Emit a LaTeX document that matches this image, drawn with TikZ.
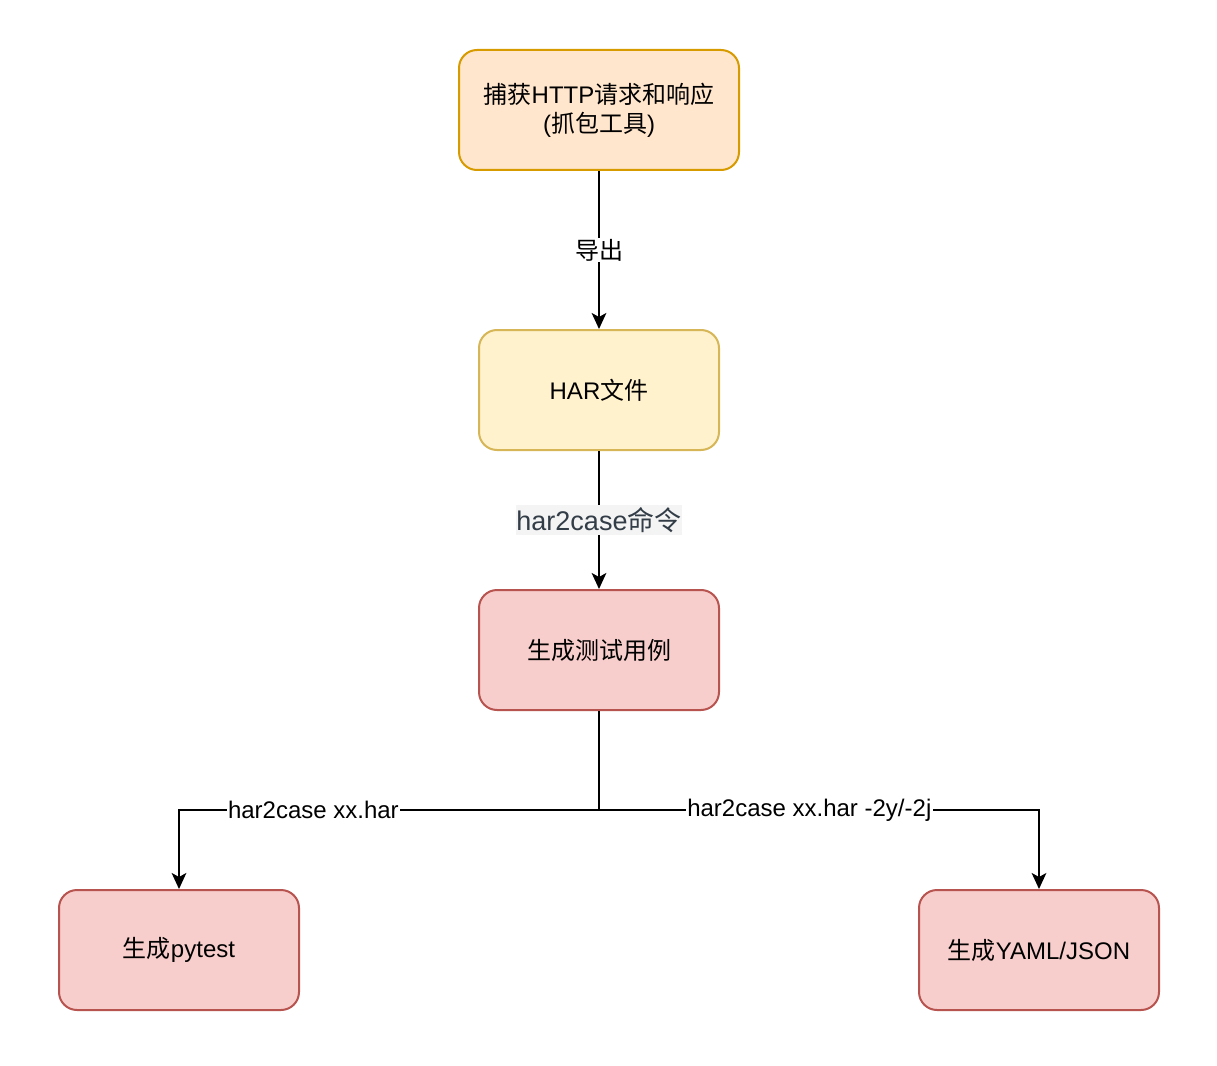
\documentclass[tikz,border=0pt]{standalone}
\usepackage{fontspec}
\setmainfont{Liberation Sans}
\newfontfamily\cjk{Noto Sans CJK SC}
\usetikzlibrary{arrows.meta}
\definecolor{capfill}{HTML}{FFE6CC}
\definecolor{capline}{HTML}{D79B00}
\definecolor{harfill}{HTML}{FFF2CC}
\definecolor{harline}{HTML}{D6B656}
\definecolor{genfill}{HTML}{F8CECC}
\definecolor{genline}{HTML}{B85450}
\definecolor{cmdback}{HTML}{F4F4F4}
\definecolor{cmdtext}{HTML}{333D47}
\begin{document}
\begin{tikzpicture}[x=0.75pt,y=-0.75pt,
    box/.style={draw,line width=1.5pt,rounded corners=13.5pt,minimum width=180pt,
        minimum height=90pt,align=center,font=\fontsize{18}{21.6}\selectfont},
    flow/.style={line width=1.5pt,-{Stealth[length=12pt,width=11pt,inset=3pt]}},
    tag/.style={fill=white,inner sep=1pt,font=\fontsize{18}{21.6}\selectfont}]
\useasboundingbox (0,0) rectangle (1217,1066);
\node[box,fill=capfill,draw=capline,minimum width=210pt] (capture) at (599,110)
    {{\cjk 捕获}HTTP{\cjk 请求和响应}\\({\cjk 抓包工具})};
\node[box,fill=harfill,draw=harline] (har) at (599,390) {HAR{\cjk 文件}};
\node[box,fill=genfill,draw=genline] (cases) at (599,650) {{\cjk 生成测试用例}};
\node[box,fill=genfill,draw=genline] (pytest) at (179,950) {{\cjk 生成}pytest};
\node[box,fill=genfill,draw=genline] (yaml) at (1039,950) {{\cjk 生成}YAML/JSON};
\coordinate (split) at (599,810);

\draw[flow] (capture) -- node[tag] {\cjk 导出} (har);
\draw[flow] (har) -- node[fill=cmdback,text=cmdtext,inner xsep=0pt,inner ysep=2pt,
    font=\fontsize{20.25}{24}\selectfont] {har2case{\cjk 命令}} (cases);
\draw[line width=1.5pt] (cases) -- (split);
\draw[flow] (split) -| node[tag,pos=0.34] {har2case xx.har} (pytest);
\draw[flow] (split) -| node[tag,pos=0.239] {har2case xx.har -2y/-2j} (yaml);
\end{tikzpicture}
\end{document}
